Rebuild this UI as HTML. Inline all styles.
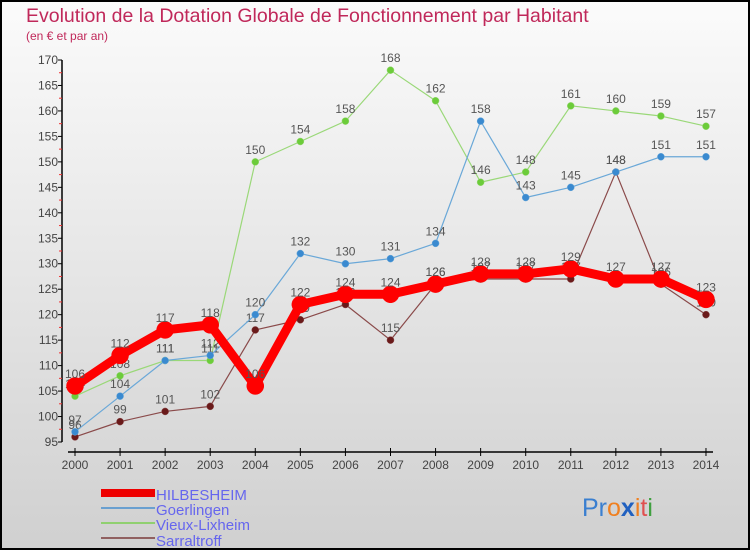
<!DOCTYPE html>
<html><head><meta charset="utf-8"><style>
body{margin:0}
svg{display:block;font-family:"Liberation Sans","DejaVu Sans",sans-serif}
</style></head><body>
<svg width="750" height="550" viewBox="0 0 750 550">
<defs><linearGradient id="bg" x1="0" y1="0" x2="0" y2="1"><stop offset="0" stop-color="#fbfbfb"/><stop offset="1" stop-color="#d0d0d0"/></linearGradient></defs>
<rect x="1" y="1" width="748" height="548" fill="url(#bg)" stroke="#000" stroke-width="2"/>
<text x="26" y="22" font-size="19.5" fill="#c0285a">Evolution de la Dotation Globale de Fonctionnement par Habitant</text>
<text x="26" y="40" font-size="12" fill="#c0285a">(en € et par an)</text>
<g id="axes"></g><g id="series"></g>
<g>
<rect x="101" y="489" width="54" height="8" fill="#e00"/>
<text x="156" y="500" font-size="15" fill="#6666ee">HILBESHEIM</text>
<line x1="101" y1="508" x2="155" y2="508" stroke="#6aa0d0" stroke-width="2"/>
<text x="156" y="515" font-size="15" fill="#6666ee">Goerlingen</text>
<line x1="101" y1="523" x2="155" y2="523" stroke="#90d070" stroke-width="2"/>
<text x="156" y="530" font-size="15" fill="#6666ee">Vieux-Lixheim</text>
<line x1="101" y1="538" x2="155" y2="538" stroke="#906060" stroke-width="2"/>
<text x="156" y="546" font-size="15" fill="#6666ee">Sarraltroff</text>
</g>
<text x="582" y="516" font-size="25"><tspan fill="#3a7fd0">Pr</tspan><tspan fill="#f08020">o</tspan><tspan fill="#2060c0" font-weight="bold">x</tspan><tspan fill="#f08020">i</tspan><tspan fill="#e05050">t</tspan><tspan fill="#40a040">i</tspan></text>
</svg>
<script>
const years=[2000,2001,2002,2003,2004,2005,2006,2007,2008,2009,2010,2011,2012,2013,2014];
const hilbesheim=[106,112,117,118,106,122,124,124,126,128,128,129,127,127,123];
const goerlingen=[97,104,111,112,120,132,130,131,134,158,143,145,148,151,151];
const vieuxLixheim=[104,108,111,111,150,154,158,168,162,146,148,161,160,159,157];
const sarraltroff=[96,99,101,102,117,119,122,115,126,127,127,127,148,126,120];
const yTicks=[95,100,105,110,115,120,125,130,135,140,145,150,155,160,165,170];
const NS="http://www.w3.org/2000/svg";
const X=i=>75+i*45.07;
const Y=v=>442-(v-95)*(382/75);
function mk(p,t,a){const e=document.createElementNS(NS,t);for(const k in a)e.setAttribute(k,a[k]);p.appendChild(e);return e;}
const ax=document.getElementById('axes');
let l=mk(ax,'line',{x1:62,y1:Y(170),x2:62,y2:442,stroke:'#000','stroke-width':1.5});


l=mk(ax,'line',{x1:68,y1:452,x2:713,y2:452,stroke:'#000','stroke-width':1.5});


yTicks.forEach(v=>{
 mk(ax,'line',{x1:58,y1:Y(v),x2:62,y2:Y(v),stroke:'#000'});
 if(v<170) mk(ax,'line',{x1:59,y1:Y(v+2.5),x2:62,y2:Y(v+2.5),stroke:'#e33'});
 const t=mk(ax,'text',{x:58,y:Y(v)+4,'font-size':12,'text-anchor':'end',fill:'#444'});
 t.textContent=v;
 
 
});
years.forEach((y,i)=>{
 mk(ax,'line',{x1:X(i),y1:448,x2:X(i),y2:456,stroke:'#000'});
 const t=mk(ax,'text',{x:X(i),y:469,'font-size':12,'text-anchor':'middle',fill:'#444'});
 t.textContent=y;
 
 
});
const sg=document.getElementById('series');
function draw(data,name,line,dot,w,r){
 const g=mk(sg,'g',{});
 
 
 mk(g,'polyline',{points:data.map((v,i)=>X(i)+','+Y(v)).join(' '),fill:'none',stroke:line,'stroke-width':w,'stroke-linejoin':'round'});
 data.forEach((v,i)=>{
  const c=mk(g,'circle',{cx:X(i),cy:Y(v),r:r,fill:dot,stroke:line,'stroke-width':0.5});
  
  
  const t=mk(g,'text',{x:X(i),y:Y(v)-8,'font-size':12,'text-anchor':'middle',fill:'#555'});
  t.textContent=v;
  
  
 });
}
draw(sarraltroff,'sarraltroff','#8a4a4a','#6a1a1a',1.2,3.5);
draw(vieuxLixheim,'vieux-lixheim','#9ad878','#6ccc3a',1.2,3.5);
draw(goerlingen,'goerlingen','#6aa8d8','#3a8ad0',1.2,3.5);
draw(hilbesheim,'hilbesheim','#f00','#f00',9,8.5);
</script>
</body></html>
